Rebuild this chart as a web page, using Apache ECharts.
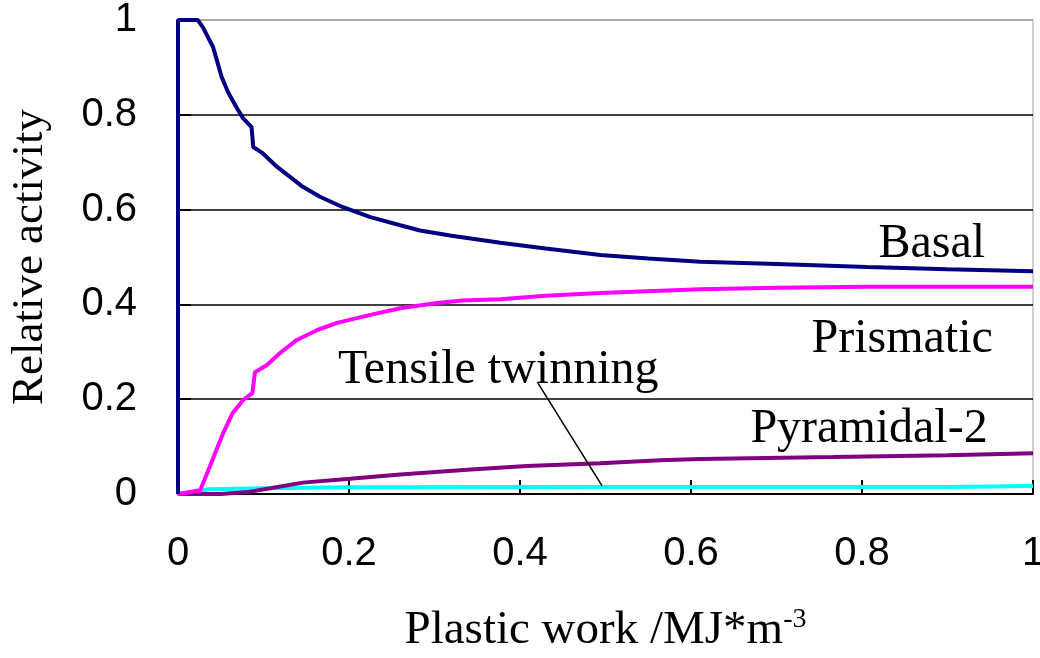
<!DOCTYPE html>
<html>
<head>
<meta charset="utf-8">
<script src="https://cdn.jsdelivr.net/npm/echarts@6/dist/echarts.min.js"></script>
<style>
  html, body { margin: 0; padding: 0; background: #fff; }
  #chart { width: 1040px; height: 658px; }
</style>
</head>
<body>
<div id="chart"></div>
<script>
// Relative activity of slip/twin modes vs. plastic work
const xTicks = [0, 0.2, 0.4, 0.6, 0.8, 1];
const yTicks = [0, 0.2, 0.4, 0.6, 0.8, 1];

const basal = [
  [0, 0], [0, 1], [0.023, 1.0], [0.029, 0.985], [0.041, 0.943], [0.051, 0.880],
  [0.059, 0.846], [0.069, 0.814], [0.076, 0.793], [0.086, 0.774], [0.088, 0.732],
  [0.099, 0.719], [0.116, 0.690], [0.131, 0.669], [0.146, 0.648], [0.166, 0.627],
  [0.193, 0.605], [0.225, 0.584], [0.26, 0.567], [0.283, 0.556], [0.32, 0.545],
  [0.377, 0.530], [0.43, 0.518], [0.494, 0.504], [0.55, 0.497], [0.611, 0.490],
  [0.7, 0.485], [0.806, 0.479], [0.9, 0.474], [1.0, 0.470]
];
const prismatic = [
  [0, 0], [0.026, 0.008], [0.037, 0.057], [0.053, 0.129], [0.064, 0.171],
  [0.076, 0.198], [0.087, 0.213], [0.090, 0.257], [0.104, 0.272], [0.119, 0.297],
  [0.139, 0.325], [0.163, 0.346], [0.186, 0.361], [0.225, 0.378], [0.26, 0.392],
  [0.303, 0.403], [0.333, 0.408], [0.377, 0.411], [0.43, 0.418], [0.494, 0.424],
  [0.611, 0.432], [0.7, 0.435], [0.806, 0.437], [1.0, 0.437]
];
const pyramidal2 = [
  [0, 0], [0.05, 0], [0.081, 0.004], [0.108, 0.012], [0.146, 0.024], [0.201, 0.032],
  [0.26, 0.041], [0.338, 0.051], [0.408, 0.059], [0.494, 0.065], [0.564, 0.071],
  [0.611, 0.074], [0.766, 0.078], [0.9, 0.082], [1.0, 0.086]
];
const tensileTwin = [
  [0, 0], [0.02, 0.002], [0.035, 0.010], [0.1, 0.012], [0.2, 0.014],
  [0.5, 0.015], [0.9, 0.015], [1.0, 0.017]
];

// Curve labels: [text, x, y, align]
const curveLabels = [
  ['Basal', 0.944, 0.527, 'right'],
  ['Prismatic', 0.953, 0.327, 'right'],
  ['Tensile twinning', 0.187, 0.260, 'left'],
  ['Pyramidal-2', 0.947, 0.137, 'right']
];
// Leader line from the twinning label to its curve
const leader = [[0.421, 0.234], [0.496, 0.017]];

const serif = '"Liberation Serif", "Times New Roman", serif';
const sans = '"Liberation Sans", Arial, sans-serif';

const chart = echarts.init(document.getElementById('chart'));

function line(name, data, color, width, z) {
  return {
    name, type: 'line', data, showSymbol: false, symbol: 'none',
    smooth: false, animation: false, z,
    lineStyle: { color, width }
  };
}

const option = {
  backgroundColor: '#fff',
  animation: false,
  grid: {
    left: 178, right: 7, top: 20, bottom: 164,
    containLabel: false, outerBoundsMode: 'none',
    show: true, borderColor: '#a0a0a0', borderWidth: 1
  },
  xAxis: {
    type: 'value', min: 0, max: 1, interval: 0.2,
    name: 'Plastic work /MJ*m{sup|-3}',
    nameLocation: 'middle', nameGap: 112,
    nameTextStyle: {
      fontFamily: serif, fontSize: 47, color: '#000',
      rich: { sup: { fontFamily: serif, fontSize: 28, color: '#000', verticalAlign: 'top', padding: [0, 0, 22, 0] } }
    },
    axisLine: { show: true, lineStyle: { color: '#000', width: 2 } },
    axisTick: { show: true, inside: true, length: 14, lineStyle: { color: '#000', width: 2 } },
    axisLabel: {
      margin: 40, fontFamily: sans, fontSize: 40, color: '#000',
      formatter: v => String(+v.toFixed(1))
    },
    splitLine: { show: false }
  },
  yAxis: {
    type: 'value', min: 0, max: 1, interval: 0.2,
    name: 'Relative activity',
    nameLocation: 'middle', nameGap: 125, nameRotate: 90,
    nameTextStyle: { fontFamily: serif, fontSize: 45, color: '#000' },
    axisLine: { show: false },
    axisTick: { show: true, inside: true, length: 13, lineStyle: { color: '#000', width: 2 } },
    axisLabel: {
      margin: 41, fontFamily: sans, fontSize: 40, color: '#000',
      formatter: v => String(+v.toFixed(1))
    },
    splitLine: {
      show: true,
      lineStyle: { color: ['#000', '#000', '#000', '#000', '#000', '#a0a0a0'], width: 1.5 }
    }
  },
  series: [
    Object.assign(line('Tensile twinning', tensileTwin, '#00ffff', 4, 2), {
      markLine: {
        silent: true, symbol: 'none', animation: false,
        label: { show: false },
        lineStyle: { color: '#000', width: 1.5, type: 'solid' },
        data: [[{ coord: leader[0] }, { coord: leader[1] }]]
      }
    }),
    line('Pyramidal-2', pyramidal2, '#800080', 4, 3),
    line('Prismatic', prismatic, '#ff00ff', 4, 4),
    line('Basal', basal, '#000080', 4, 5)
  ]
};

chart.setOption(option);

// Place curve labels at data coordinates
chart.setOption({
  graphic: curveLabels.map(([text, x, y, align]) => {
    const p = chart.convertToPixel({ gridIndex: 0 }, [x, y]);
    return {
      type: 'text', x: p[0], y: p[1], z: 10,
      style: {
        text, fill: '#000', font: '48px ' + serif,
        textAlign: align, textVerticalAlign: 'middle'
      }
    };
  })
});
</script>
</body>
</html>
